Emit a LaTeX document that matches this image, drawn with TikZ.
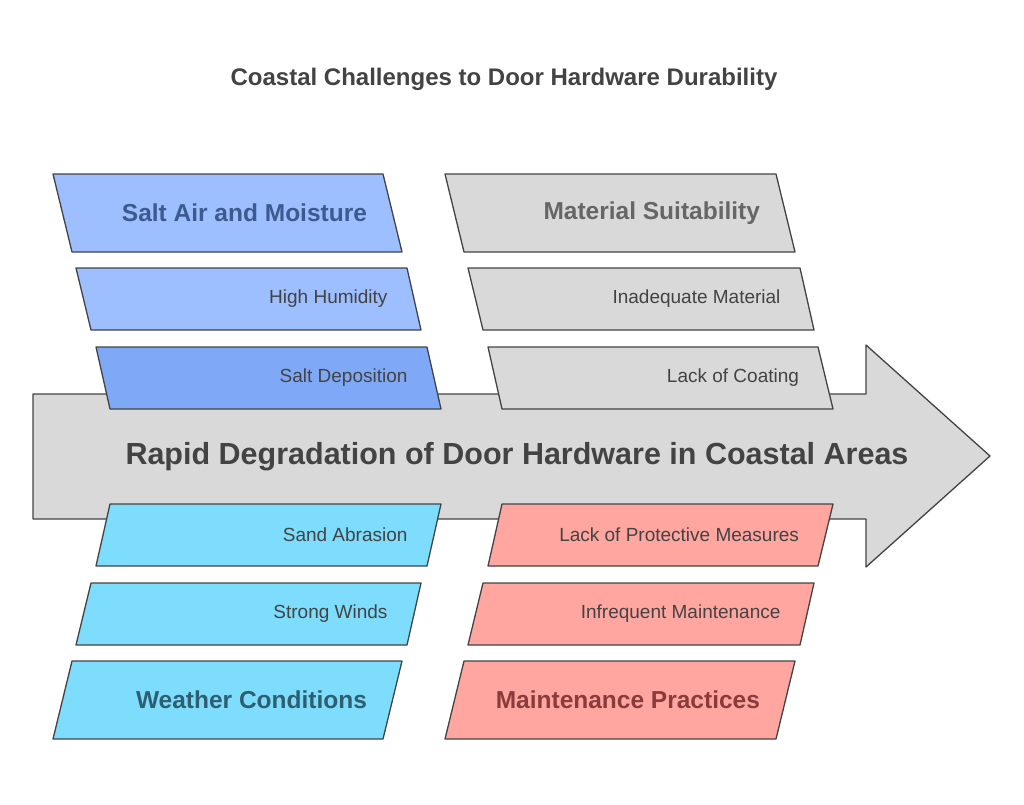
\documentclass[tikz,border=0pt]{standalone}
\usepackage{fontspec}
\setmainfont{Liberation Sans}
\definecolor{edgegray}{HTML}{434343}
\definecolor{saltfill}{HTML}{9DBEFF}
\definecolor{saltdark}{HTML}{7FA9F7}
\definecolor{salttext}{HTML}{3D5A8F}
\definecolor{matfill}{HTML}{D9D9D9}
\definecolor{mattext}{HTML}{666666}
\definecolor{weatherfill}{HTML}{7EDCFD}
\definecolor{weathertext}{HTML}{2E5F70}
\definecolor{maintfill}{HTML}{FFA6A1}
\definecolor{mainttext}{HTML}{8A3B3B}
\definecolor{arrowfill}{HTML}{D9D9D9}

% parallelogram: top-left x, top-right x, bottom-left x, bottom-right x, top y, bottom y, fill, name
\newcommand{\slantbox}[8]{%
  \draw[box line,fill=#7] (#1,#5) -- (#2,#5) -- (#4,#6) -- (#3,#6) -- cycle;
  \coordinate (#8) at ({(#2+#4)/2-25},{(#5+#6)/2});}

\begin{document}
\begin{tikzpicture}[x=1pt,y=-1pt,
      box line/.style={draw=edgegray,line width=1.3pt,line join=round},
      big label/.style={anchor=east,xshift=3pt,font=\bfseries\fontsize{24.5}{26}\selectfont},
      small label/.style={anchor=east,xshift=2pt,text=edgegray,font=\fontsize{19}{21}\selectfont}]
  \useasboundingbox (0,0) rectangle (1024,804);

  %% TITLE
  \node[font=\bfseries\fontsize{24}{26}\selectfont,text=edgegray] (title) at (504,79)
    {Coastal Challenges to Door Hardware Durability};

  %% THE SPINE
  \draw[box line,fill=arrowfill] (33,394) -- (866,394) -- (866,345) -- (990,456)
    -- (866,567) -- (866,519) -- (33,519) -- cycle;
  \node[font=\bfseries\fontsize{30.5}{32}\selectfont,text=edgegray] (effect) at (517,457)
    {Rapid Degradation of Door Hardware in Coastal Areas};

  %% TOP BONES
  \slantbox{53}{383}{72}{402}{174}{252}{saltfill}{salt}
  \slantbox{76}{407}{91}{421}{268}{330}{saltfill}{humid}
  \slantbox{96}{427}{110}{441}{347}{409}{saltdark}{depos}
  \slantbox{445}{776}{464}{795}{174}{252}{matfill}{mat}
  \slantbox{468}{800}{483}{814}{268}{330}{matfill}{inadeq}
  \slantbox{488}{818}{502}{833}{347}{409}{matfill}{coat}

  %% BOTTOM BONES
  \slantbox{110}{441}{96}{427}{504}{566}{weatherfill}{sand}
  \slantbox{91}{421}{76}{407}{583}{645}{weatherfill}{wind}
  \slantbox{72}{402}{53}{383}{661}{739}{weatherfill}{weather}
  \slantbox{502}{833}{488}{818}{504}{566}{maintfill}{protect}
  \slantbox{483}{814}{468}{800}{583}{645}{maintfill}{infreq}
  \slantbox{464}{795}{445}{776}{661}{739}{maintfill}{maint}

  %% LABELS
  \node[big label,text=salttext] at (salt) {Salt Air and Moisture};
  \node[small label] at (humid) {High Humidity};
  \node[small label] at (depos) {Salt Deposition};
  \node[big label,text=mattext] at (mat) {Material Suitability};
  \node[small label] at (inadeq) {Inadequate Material};
  \node[small label] at (coat) {Lack of Coating};
  \node[small label] at (sand) {Sand Abrasion};
  \node[small label] at (wind) {Strong Winds};
  \node[big label,text=weathertext] at (weather) {Weather Conditions};
  \node[small label] at (protect) {Lack of Protective Measures};
  \node[small label] at (infreq) {Infrequent Maintenance};
  \node[big label,text=mainttext] at (maint) {Maintenance Practices};
\end{tikzpicture}
\end{document}
